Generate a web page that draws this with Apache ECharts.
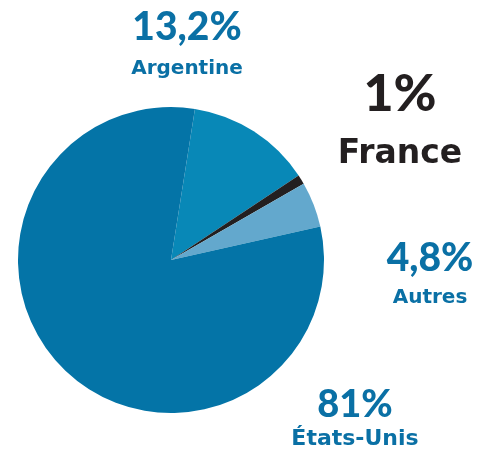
<!DOCTYPE html>
<html>
<head>
<meta charset="utf-8">
<script src="https://cdn.jsdelivr.net/npm/echarts@6/dist/echarts.min.js"></script>
<style>
  html, body { margin: 0; padding: 0; background: #fff; }
  #pie { width: 477px; height: 456px; }
</style>
</head>
<body>
<div id="pie"></div>
<script>
// parts de marché, dans l'ordre horaire depuis le haut
var pays = ['Argentine', 'France', 'Autres', 'États-Unis'];
var parts = [13.2, 1, 4.8, 81];

var couleurs = ['#0888b7', '#231f20', '#63a8cd', '#0474a7'];
var couleursTexte = ['#0a70a5', '#231f20', '#0a70a5', '#0a70a5'];

// emplacement des étiquettes (centre du bloc) et tailles
var etiquettes = [
  { x: 187, y: 48, p: 39, n: 20, lh: 41 },
  { x: 400, y: 124, p: 52, n: 33, lh: 60 },
  { x: 430, y: 278, p: 39, n: 20, lh: 39 },
  { x: 355, y: 422, p: 38, n: 22, lh: 34 }
];

function pct(v) {
  return String(v).replace('.', ',') + '%';
}

function initPie() {
  var myChart = echarts.init(document.getElementById('pie'));
  var data = pays.map(function (nom, i) {
    var e = etiquettes[i];
    return {
      name: nom,
      value: parts[i],
      itemStyle: { color: couleurs[i] },
      label: {
        formatter: '{p|' + pct(parts[i]) + '}\n{n|' + nom + '}',
        rich: {
          p: { fontSize: e.p, fontWeight: 900, color: couleursTexte[i], lineHeight: e.lh, fontFamily: 'Lato', align: 'center' },
          n: { fontSize: e.n, fontWeight: 'bold', color: couleursTexte[i], lineHeight: e.lh, fontFamily: 'DejaVu Sans', align: 'center' }
        }
      }
    };
  });

  var options = {
    animation: false,
    series: [
      {
        type: 'pie',
        center: [171, 260],
        radius: 153,
        startAngle: 81,
        clockwise: true,
        avoidLabelOverlap: false,
        data: data,
        itemStyle: { borderWidth: 0 },
        label: { show: true, position: 'inside' },
        labelLine: { show: false },
        labelLayout: function (params) {
          var e = etiquettes[params.dataIndex];
          return { x: e.x, y: e.y, align: 'center', verticalAlign: 'middle' };
        },
        emphasis: { disabled: true }
      }
    ]
  };
  myChart.setOption(options);
}

initPie();
</script>
</body>
</html>
